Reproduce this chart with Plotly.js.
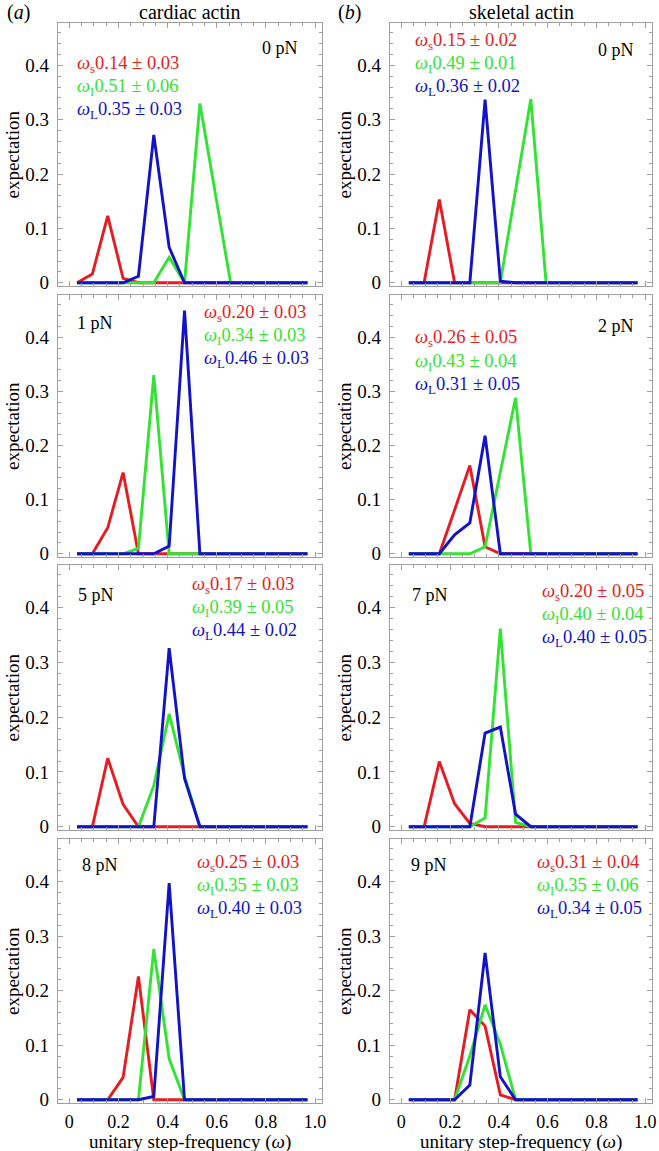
<!DOCTYPE html>
<html><head><meta charset="utf-8">
<script src="https://cdn.plot.ly/plotly-3.0.1.min.js"></script>
<style>html,body{margin:0;padding:0;background:#fff}</style>
</head><body><div id="chart" style="width:659px;height:1151px"></div>
<script>
// ---------- data ----------
const omega = [0.03125,0.09375,0.15625,0.21875,0.28125,0.34375,0.40625,0.46875,0.53125,0.59375,0.65625,0.71875,0.78125,0.84375,0.90625,0.96875];
const yTickVals = [0,0.1,0.2,0.3,0.4];
const yTickText = ['0','0.1','0.2','0.3','0.4'];
const xTickVals = [0,0.2,0.4,0.6,0.8,1.0];
const xTickText = ['0','0.2','0.4','0.6','0.8','1.0'];
const columnTitles = ['cardiac actin','skeletal actin'];
const columnLetters = ['a','b'];
const cardiacForces = ['0 pN','1 pN','5 pN','8 pN'];
const skeletalForces = ['0 pN','2 pN','7 pN','9 pN'];

// cardiac actin: expectation per bin for omega_s (red), omega_I (green), omega_L (blue)
const cardiac0S = [0,0.016,0.123,0.008,0,0,0,0,0,0,0,0,0,0,0,0];
const cardiac0I = [0,0,0,0,0,0,0.047,0,0.33,0.165,0,0,0,0,0,0];
const cardiac0L = [0,0,0,0,0.012,0.272,0.065,0,0,0,0,0,0,0,0,0];
const cardiac1S = [0,0,0.048,0.15,0,0,0,0,0,0,0,0,0,0,0,0];
const cardiac1I = [0,0,0,0,0.01,0.33,0,0,0,0,0,0,0,0,0,0];
const cardiac1L = [0,0,0,0,0,0,0.014,0.449,0,0,0,0,0,0,0,0];
const cardiac5S = [0,0,0.125,0.041,0,0,0,0,0,0,0,0,0,0,0,0];
const cardiac5I = [0,0,0,0,0,0.075,0.206,0.093,0,0,0,0,0,0,0,0];
const cardiac5L = [0,0,0,0,0,0,0.326,0.088,0,0,0,0,0,0,0,0];
const cardiac8S = [0,0,0,0.041,0.226,0,0,0,0,0,0,0,0,0,0,0];
const cardiac8I = [0,0,0,0,0,0.276,0.075,0,0,0,0,0,0,0,0,0];
const cardiac8L = [0,0,0,0,0,0.006,0.397,0,0,0,0,0,0,0,0,0];
// skeletal actin
const skeletal0S = [0,0,0.153,0,0,0,0,0,0,0,0,0,0,0,0,0];
const skeletal0I = [0,0,0,0,0,0,0,0.17,0.338,0,0,0,0,0,0,0];
const skeletal0L = [0,0,0,0,0,0.337,0.003,0,0,0,0,0,0,0,0,0];
const skeletal2S = [0,0,0,0.081,0.163,0.013,0,0,0,0,0,0,0,0,0,0];
const skeletal2I = [0,0,0,0,0,0.013,0.15,0.288,0,0,0,0,0,0,0,0];
const skeletal2L = [0,0,0,0.035,0.057,0.218,0,0,0,0,0,0,0,0,0,0];
const skeletal7S = [0,0,0.119,0.042,0.006,0,0,0,0,0,0,0,0,0,0,0];
const skeletal7I = [0,0,0,0,0,0.016,0.362,0.008,0,0,0,0,0,0,0,0];
const skeletal7L = [0,0,0,0,0,0.171,0.182,0.023,0,0,0,0,0,0,0,0];
const skeletal9S = [0,0,0,0,0.165,0.135,0.009,0,0,0,0,0,0,0,0,0];
const skeletal9I = [0,0,0,0,0.08,0.174,0.102,0,0,0,0,0,0,0,0,0];
const skeletal9L = [0,0,0,0,0.027,0.269,0.042,0,0,0,0,0,0,0,0,0];

// mean ± sd annotations
const cardiacMeanS = [0.14,0.20,0.17,0.25], cardiacSdS = [0.03,0.03,0.03,0.03];
const cardiacMeanI = [0.51,0.34,0.39,0.35], cardiacSdI = [0.06,0.03,0.05,0.03];
const cardiacMeanL = [0.35,0.46,0.44,0.40], cardiacSdL = [0.03,0.03,0.02,0.03];
const skeletalMeanS = [0.15,0.26,0.20,0.31], skeletalSdS = [0.02,0.05,0.05,0.04];
const skeletalMeanI = [0.49,0.43,0.40,0.35], skeletalSdI = [0.01,0.04,0.04,0.06];
const skeletalMeanL = [0.36,0.31,0.40,0.34], skeletalSdL = [0.02,0.05,0.05,0.05];

// ---------- layout / styles ----------
const W = 659, H = 1151;
const RED = '#e61c22', GREEN = '#33e333', BLUE = '#1212c8';
const FRAME = '#a0a0a0';
const FONT = 'Liberation Serif';
const px = v => v / W, py = v => 1 - v / H;

const colX = [[58,322],[390,652]];
const rowY = [[23,286],[295,557],[565,830],[839,1103]];

const columns = [
  {forces: cardiacForces,
   series: [[cardiac0S,cardiac0I,cardiac0L],[cardiac1S,cardiac1I,cardiac1L],[cardiac5S,cardiac5I,cardiac5L],[cardiac8S,cardiac8I,cardiac8L]],
   mean: [cardiacMeanS,cardiacMeanI,cardiacMeanL], sd: [cardiacSdS,cardiacSdI,cardiacSdL]},
  {forces: skeletalForces,
   series: [[skeletal0S,skeletal0I,skeletal0L],[skeletal2S,skeletal2I,skeletal2L],[skeletal7S,skeletal7I,skeletal7L],[skeletal9S,skeletal9I,skeletal9L]],
   mean: [skeletalMeanS,skeletalMeanI,skeletalMeanL], sd: [skeletalSdS,skeletalSdI,skeletalSdL]}
];
// positions (pixels) of force label (centre) and stats block (left, first line centre)
const forcePos = [[[280,48],[95,323],[96,595],[100,865]],[[616,50],[616,326],[430,595],[429,865]]];
const statPos  = [[[75,65],[202,313],[190,585],[195,863]],[[413,42],[413,339],[540,592],[535,863]]];
const subs = ['s','I','L'];
const colors = [RED, GREEN, BLUE];
const LINE_GAP = 23;

const traces = [];
const layout = {
  width: W, height: H, margin: {l:0,r:0,t:0,b:0},
  paper_bgcolor: '#fff', plot_bgcolor: '#fff', showlegend: false,
  font: {family: FONT, size: 18, color: '#000'},
  annotations: []
};

for (let c = 0; c < 2; c++) {
  for (let r = 0; r < 4; r++) {
    const i = c * 4 + r + 1;
    const xa = 'xaxis' + (i === 1 ? '' : i), ya = 'yaxis' + (i === 1 ? '' : i);
    const xs = 'x' + (i === 1 ? '' : i), ys = 'y' + (i === 1 ? '' : i);
    const col = columns[c];
    for (let s = 0; s < 3; s++) {
      traces.push({x: omega, y: col.series[r][s], xaxis: xs, yaxis: ys, type: 'scatter', mode: 'lines',
        line: {color: colors[s], width: 2.9}, hoverinfo: 'skip'});
    }
    const common = {showline: true, linecolor: FRAME, linewidth: 1.2, mirror: 'allticks',
      ticks: 'inside', ticklen: 5, tickwidth: 1, tickcolor: FRAME, showgrid: false, zeroline: false,
      tickfont: {family: FONT, size: 19, color: '#000'}, fixedrange: true};
    layout[xa] = Object.assign({}, common, {
      domain: [px(colX[c][0]), px(colX[c][1])], range: [-0.046, 1.028], anchor: ys,
      tickmode: 'array', tickvals: xTickVals, ticktext: xTickText, showticklabels: r === 3,
      tickfont: {family: FONT, size: 18, color: '#000'},
      ticklabelstandoff: 2,
      minor: {ticks: 'inside', ticklen: 3, tickcolor: FRAME, tickmode: 'linear', tick0: 0, dtick: 0.05}
    });
    layout[ya] = Object.assign({}, common, {
      domain: [py(rowY[r][1]), py(rowY[r][0])], range: [-0.006, 0.478], anchor: xs,
      tickmode: 'array', tickvals: yTickVals, ticktext: yTickText,
      ticklabelstandoff: 4,
      minor: {ticks: 'inside', ticklen: 3, tickcolor: FRAME, tickmode: 'linear', tick0: 0, dtick: 0.02}
    });
    // y title
    layout.annotations.push({text: 'expectation', textangle: -90, xref: 'paper', yref: 'paper',
      x: px(colX[c][0] - 46), y: py((rowY[r][0] + rowY[r][1]) / 2), xanchor: 'center', yanchor: 'middle',
      showarrow: false, font: {family: FONT, size: 19, color: '#000'}});
    // force label
    layout.annotations.push({text: col.forces[r], xref: 'paper', yref: 'paper',
      x: px(forcePos[c][r][0]), y: py(forcePos[c][r][1]), xanchor: 'center', yanchor: 'middle',
      showarrow: false, font: {family: FONT, size: 18, color: '#000'}});
    // stats
    for (let s = 0; s < 3; s++) {
      const txt = '<i>ω</i><sub>' + subs[s] + '</sub>' + col.mean[s][r].toFixed(2) + ' ± ' + col.sd[s][r].toFixed(2);
      layout.annotations.push({text: txt, xref: 'paper', yref: 'paper',
        x: px(statPos[c][r][0]), y: py(statPos[c][r][1] + s * LINE_GAP), xanchor: 'left', yanchor: 'middle',
        showarrow: false, font: {family: FONT, size: 18.5, color: colors[s]}});
    }
  }
  // column title and letter
  layout.annotations.push({text: columnTitles[c], xref: 'paper', yref: 'paper',
    x: px((colX[c][0] + colX[c][1]) / 2), y: py(12), xanchor: 'center', yanchor: 'middle',
    showarrow: false, font: {family: FONT, size: 20, color: '#000'}});
  layout.annotations.push({text: '(<i>' + columnLetters[c] + '</i>)', xref: 'paper', yref: 'paper',
    x: px(c === 0 ? 18 : 349), y: py(12), xanchor: 'center', yanchor: 'middle',
    showarrow: false, font: {family: FONT, size: 20, color: '#000'}});
  // x title
  layout.annotations.push({text: 'unitary step-frequency (<i>ω</i>)', xref: 'paper', yref: 'paper',
    x: px((colX[c][0] + colX[c][1]) / 2), y: py(1142), xanchor: 'center', yanchor: 'middle',
    showarrow: false, font: {family: FONT, size: 19, color: '#000'}});
}

Plotly.newPlot('chart', traces, layout, {staticPlot: true, displayModeBar: false});
</script></body></html>
